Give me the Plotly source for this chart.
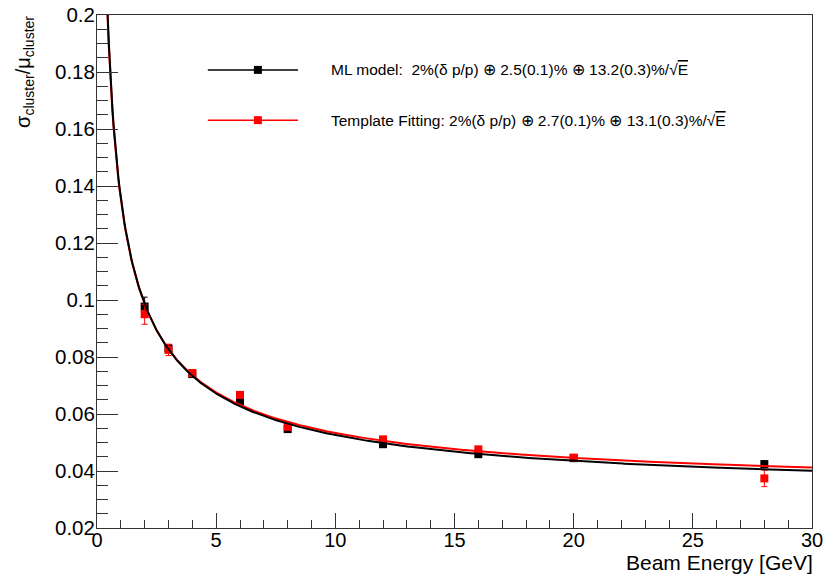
import numpy as np
import plotly.graph_objects as go

# ---- data ----
energy = [2, 3, 4, 6, 8, 12, 16, 20, 28]
ml_res = [0.0977, 0.0830, 0.0740, 0.0645, 0.0547, 0.0494, 0.0459, 0.0445, 0.0424]
ml_err = [0.0033, 0.0012, 0.0010, 0.0008, 0.0008, 0.0007, 0.0007, 0.0007, 0.0012]
tf_res = [0.0950, 0.0825, 0.0744, 0.0667, 0.0555, 0.0511, 0.0476, 0.0447, 0.0374]
tf_err = [0.0035, 0.0020, 0.0012, 0.0010, 0.0008, 0.0008, 0.0008, 0.0008, 0.0029]

# fit parameters (from legend): momentum term, constant term, stochastic term
mom_term = 0.02
ml_const, ml_stoch = 0.025, 0.132
tf_const, tf_stoch = 0.027, 0.131

legend_ml = "ML model:  2%(δ p/p) ⊕ 2.5(0.1)% ⊕ 13.2(0.3)%/√<span style='text-decoration:overline'>E</span>"
legend_tf = "Template Fitting: 2%(δ p/p) ⊕ 2.7(0.1)% ⊕ 13.1(0.3)%/√<span style='text-decoration:overline'>E</span>"

x_ticks = [0, 5, 10, 15, 20, 25, 30]
y_ticks = [0.02, 0.04, 0.06, 0.08, 0.1, 0.12, 0.14, 0.16, 0.18, 0.2]
y_tick_labels = ["0.02", "0.04", "0.06", "0.08", "0.1", "0.12", "0.14", "0.16", "0.18", "0.2"]


def fit_curve(e, const, stoch):
    return np.sqrt(mom_term**2 + const**2 + stoch**2 / e)


e_fine = np.linspace(0.3, 30, 600)

FONT = "Liberation Sans, Arial, Helvetica, sans-serif"
AX = "#333333"

fig = go.Figure()

fig.add_trace(go.Scatter(
    x=energy, y=ml_res, mode="markers",
    marker=dict(symbol="square", size=8, color="black"),
    error_y=dict(type="data", array=ml_err, color="black", thickness=1, width=3),
    showlegend=False, cliponaxis=True))
fig.add_trace(go.Scatter(
    x=energy, y=tf_res, mode="markers",
    marker=dict(symbol="square", size=8, color="red"),
    error_y=dict(type="data", array=tf_err, color="red", thickness=1, width=3),
    showlegend=False, cliponaxis=True))
fig.add_trace(go.Scatter(
    x=e_fine, y=fit_curve(e_fine, tf_const, tf_stoch), mode="lines",
    line=dict(color="red", width=2), showlegend=False))
fig.add_trace(go.Scatter(
    x=e_fine, y=fit_curve(e_fine, ml_const, ml_stoch), mode="lines",
    line=dict(color="black", width=2), showlegend=False))

# ---- manual ROOT-style legend ----
leg_rows = [(0.893, "black", legend_ml), (0.795, "red", legend_tf)]
for ypos, col, txt in leg_rows:
    fig.add_shape(type="line", xref="paper", yref="paper",
                  x0=0.155, x1=0.281, y0=ypos, y1=ypos,
                  line=dict(color=col, width=1.5))
    fig.add_shape(type="rect", xref="paper", yref="paper",
                  xsizemode="pixel", ysizemode="pixel",
                  xanchor=0.225, yanchor=ypos,
                  x0=-4, x1=4, y0=-4, y1=4,
                  fillcolor=col, line=dict(color=col, width=0))
    fig.add_annotation(x=0.325, y=ypos, xref="paper", yref="paper",
                       text=txt, showarrow=False, xanchor="left", yanchor="middle",
                       font=dict(family=FONT, size=15.5, color="black"))

# axis titles
fig.add_annotation(x=1.0, y=-0.068, xref="paper", yref="paper", xshift=3,
                   text="Beam Energy [GeV]", showarrow=False,
                   xanchor="right", yanchor="middle",
                   font=dict(family=FONT, size=21, color="black"))
fig.add_annotation(x=-0.1007, y=0.889, xref="paper", yref="paper",
                   text="σ<sub>cluster</sub>/μ<sub>cluster</sub>", showarrow=False,
                   textangle=-90, xanchor="center", yanchor="middle",
                   font=dict(family=FONT, size=20, color="black"))

fig.update_xaxes(
    range=[0, 30], tickmode="array", tickvals=x_ticks,
    ticks="inside", ticklen=15, tickwidth=1, tickcolor=AX,
    minor=dict(dtick=1, ticks="inside", ticklen=8, tickcolor=AX, tickwidth=1),
    showline=True, linecolor=AX, linewidth=1, mirror=True,
    showgrid=False, zeroline=False, automargin=False, ticklabelstandoff=-6,
    tickfont=dict(family=FONT, size=20, color="black"))
fig.update_yaxes(
    range=[0.02, 0.2], tickmode="array", tickvals=y_ticks, ticktext=y_tick_labels,
    ticks="inside", ticklen=21, tickwidth=1, tickcolor=AX,
    minor=dict(dtick=0.005, ticks="inside", ticklen=11, tickcolor=AX, tickwidth=1),
    showline=True, linecolor=AX, linewidth=1, mirror=True,
    showgrid=False, zeroline=False, automargin=False, ticklabelstandoff=-3,
    tickfont=dict(family=FONT, size=20.5, color="black"))

fig.update_layout(
    width=824, height=577,
    margin=dict(l=97, r=12, t=15, b=49, autoexpand=False),
    paper_bgcolor="white", plot_bgcolor="white",
    showlegend=False)

fig.write_html("out.html", config={"displayModeBar": False},
               post_script="document.body.style.margin='0';document.body.style.padding='0';")
